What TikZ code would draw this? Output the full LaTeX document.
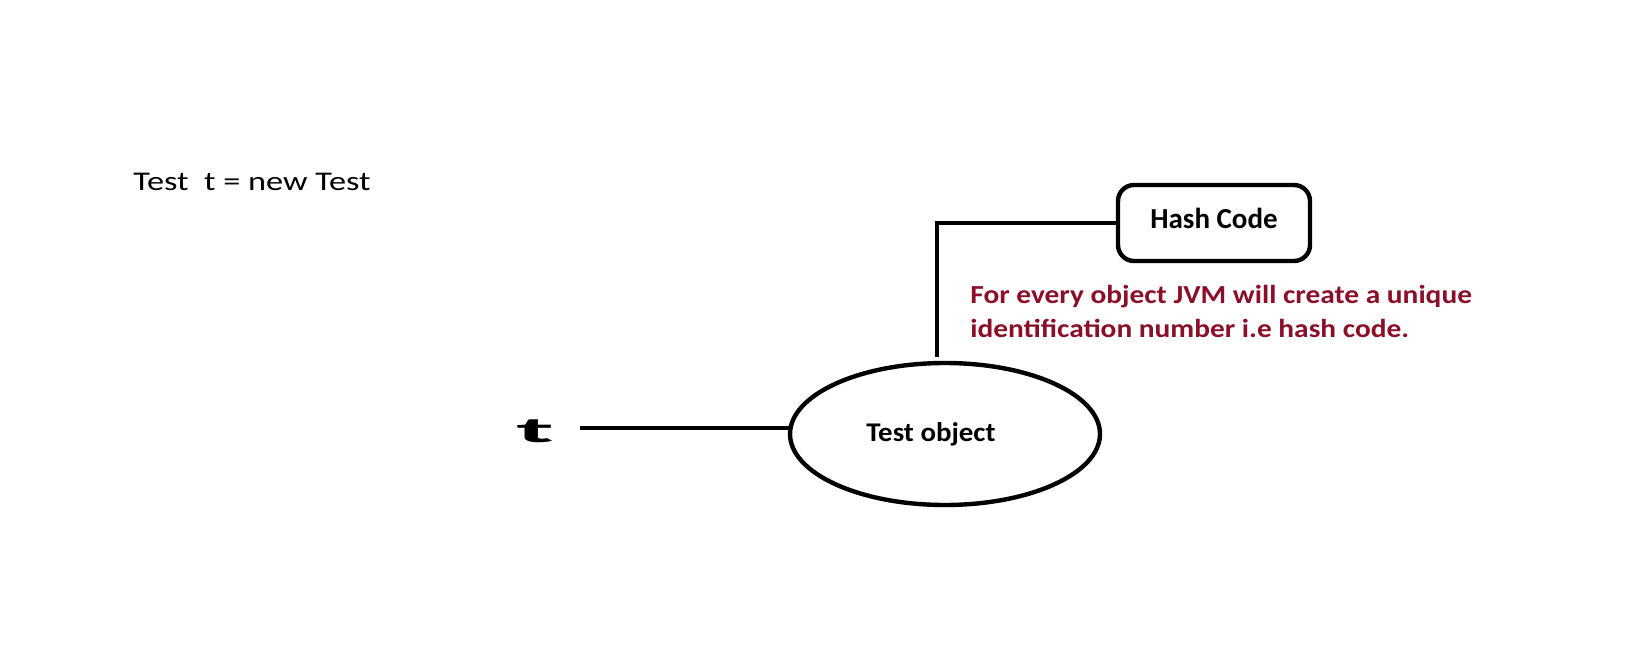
\documentclass[tikz,border=0pt]{standalone}
\usepackage{fontspec}
\setmainfont{Carlito}
\usetikzlibrary{shapes.geometric}
\definecolor{jvmred}{RGB}{139,15,40}
\newcommand\lw{2.2pt}

\begin{document}
\begin{tikzpicture}[
			x=0.5pt,y=-0.5pt,
			obj/.style={draw,ellipse,line width=\lw,minimum width=155pt,minimum height=71pt,inner sep=0pt,outer sep=0pt,font=\fontsize{13.5}{16}\selectfont\bfseries},
			hbox/.style={draw,rectangle,rounded corners=8pt,line width=\lw,minimum width=96pt,minimum height=38pt,inner sep=0pt,outer sep=0pt,text depth=4.5pt,font=\fontsize{14.5}{18}\selectfont\bfseries},
			txt/.style={anchor=base west,inner sep=0pt,font=\fontsize{13.5}{16}\selectfont},
			note/.style={anchor=north west,inner sep=0pt,text=jvmred,font=\fontsize{13}{17}\selectfont\bfseries},
			wire/.style={line width=\lw}
		]
		\useasboundingbox (0,0) rectangle (1627,648);
		\node [txt] (decl) at (133,190) {\scalebox{1.27}[1]{Test\ \ t = new Test}};

		\node [obj] (obj) at (945,434) {\scalebox{1.07}[1]{Test object}\kern14pt};
		\node [hbox] (hash) at ([shift={(269,-211)}]obj) {Hash Code};
		\node [note] (info) at ([shift={(25,-155)}]obj) {\scalebox{1.13}[1]{\begin{tabular}{@{}l@{}}For every object JVM will create a unique\\identification number i.e hash code.\end{tabular}}};

		\node [inner sep=0pt,font=\fontsize{18}{20}\selectfont\bfseries] (tvar) at ([shift={(-410,-3)}]obj) {\scalebox{3}[1]{t}};
		\coordinate (tend) at ([shift={(-365,-6)}]obj);
		\coordinate (up) at ([shift={(-8,-77)}]obj);

		\draw[wire] (tend)--(tend -| obj.west);
		\draw[wire] (up) |- (hash.west);
	\end{tikzpicture}
\end{document}
